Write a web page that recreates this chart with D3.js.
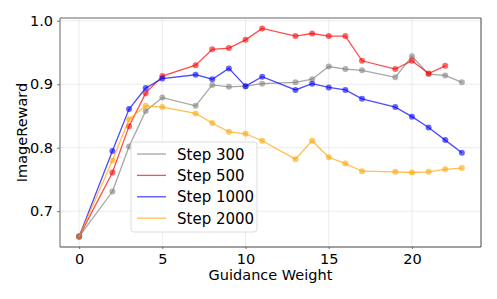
<!DOCTYPE html>
<html>
<head>
<meta charset="utf-8">
<script src="https://cdn.jsdelivr.net/npm/d3@7"></script>
<style>
  body { margin: 0; background: #fff; }
  text { font-family: "DejaVu Sans", sans-serif; fill: #000; }
  .grid line { stroke: #e6e6e6; stroke-width: 0.8; }
</style>
</head>
<body>
<div id="chart"></div>
<script>
// guidance weights and ImageReward per checkpoint
var weights = [0, 2, 3, 4, 5, 7, 8, 9, 10, 11, 13, 14, 15, 16, 17, 19, 20, 21, 22, 23];
var step300 = [0.660, 0.731, 0.802, 0.858, 0.879, 0.866, 0.899, 0.896, 0.897, 0.901, 0.903, 0.908, 0.928, 0.924, 0.922, 0.911, 0.944, 0.916, 0.914, 0.903];
var step500 = [0.660, 0.761, 0.834, 0.886, 0.913, 0.930, 0.955, 0.957, 0.970, 0.988, 0.976, 0.980, 0.976, 0.976, 0.937, 0.924, 0.937, 0.917, 0.929];
var step1000 = [0.660, 0.795, 0.861, 0.894, 0.909, 0.915, 0.908, 0.925, 0.897, 0.912, 0.891, 0.901, 0.895, 0.891, 0.877, 0.864, 0.849, 0.832, 0.812, 0.792];
var step2000 = [0.660, 0.780, 0.845, 0.866, 0.864, 0.854, 0.839, 0.825, 0.822, 0.811, 0.782, 0.811, 0.785, 0.775, 0.763, 0.762, 0.761, 0.762, 0.766, 0.768];
var seriesNames = ["Step 300", "Step 500", "Step 1000", "Step 2000"];
var seriesColors = ["gray", "red", "blue", "orange"];
var xTicks = [0, 5, 10, 15, 20];
var yTicks = [0.7, 0.8, 0.9, 1.0];

var series = [step300, step500, step1000, step2000].map(function(vals, i) {
  return {
    name: seriesNames[i],
    color: seriesColors[i],
    points: vals.map(function(v, j) { return {x: weights[j], y: v}; })
  };
});

var width = 497, height = 299;
var plotL = 60, plotR = 481, plotT = 18, plotB = 247;

var svg = d3.select("#chart").append("svg")
  .attr("width", width)
  .attr("height", height);

// matplotlib-style 5% margins
var xScale = d3.scaleLinear().domain([-1.15, 24.15]).range([plotL, plotR]);
var yScale = d3.scaleLinear().domain([0.6436, 1.0044]).range([plotB, plotT]);

// grid
var grid = svg.append("g").attr("class", "grid");
grid.selectAll(".vgrid").data(xTicks).enter().append("line")
  .attr("x1", function(d) { return xScale(d); })
  .attr("x2", function(d) { return xScale(d); })
  .attr("y1", plotT).attr("y2", plotB);
grid.selectAll(".hgrid").data(yTicks).enter().append("line")
  .attr("y1", function(d) { return yScale(d); })
  .attr("y2", function(d) { return yScale(d); })
  .attr("x1", plotL).attr("x2", plotR);

// axes
var xAxis = svg.append("g")
  .attr("transform", "translate(0," + plotB + ")")
  .call(d3.axisBottom(xScale).tickValues(xTicks).tickSize(2).tickPadding(5).tickFormat(d3.format("d")));
var yAxis = svg.append("g")
  .attr("transform", "translate(" + plotL + ",0)")
  .call(d3.axisLeft(yScale).tickValues(yTicks).tickSize(3).tickPadding(4).tickFormat(d3.format(".1f")));
[xAxis, yAxis].forEach(function(a) {
  a.select(".domain").remove();
  a.selectAll("line").attr("stroke", "#555").attr("stroke-width", 0.8);
  a.selectAll("text").style("font-size", "14.5px").style("font-family", "DejaVu Sans");
});

// frame: top spine lighter, others dark gray
var spines = [
  {x1: plotL, y1: plotT, x2: plotR, y2: plotT, c: "#999", w: 1.5},
  {x1: plotR, y1: plotT, x2: plotR, y2: plotB, c: "#444", w: 1},
  {x1: plotL, y1: plotB, x2: plotR, y2: plotB, c: "#444", w: 1},
  {x1: plotL, y1: plotT, x2: plotL, y2: plotB, c: "#666", w: 1}
];
svg.selectAll(".spine").data(spines).enter().append("line")
  .attr("x1", function(d) { return d.x1; }).attr("y1", function(d) { return d.y1; })
  .attr("x2", function(d) { return d.x2; }).attr("y2", function(d) { return d.y2; })
  .attr("stroke", function(d) { return d.c; })
  .attr("stroke-width", function(d) { return d.w; });

// lines
var line = d3.line()
  .x(function(d) { return xScale(d.x); })
  .y(function(d) { return yScale(d.y); });

var groups = svg.selectAll(".series").data(series).enter().append("g")
  .attr("class", "series");
groups.append("path")
  .attr("d", function(d) { return line(d.points); })
  .attr("fill", "none")
  .attr("stroke", function(d) { return d.color; })
  .attr("stroke-opacity", 0.7)
  .attr("stroke-width", 1.3);
groups.selectAll("circle")
  .data(function(d) { return d.points.map(function(p) { return {x: p.x, y: p.y, color: d.color}; }); })
  .enter().append("circle")
  .attr("cx", function(d) { return xScale(d.x); })
  .attr("cy", function(d) { return yScale(d.y); })
  .attr("r", 3)
  .attr("fill", function(d) { return d.color; })
  .attr("fill-opacity", 0.6);

// axis labels
svg.append("text")
  .attr("x", (plotL + plotR) / 2)
  .attr("y", 280)
  .attr("text-anchor", "middle")
  .style("font-size", "14.5px")
  .text("Guidance Weight");
svg.append("text")
  .attr("transform", "translate(27," + ((plotT + plotB) / 2) + ") rotate(-90)")
  .attr("text-anchor", "middle")
  .style("font-size", "14.5px")
  .text("ImageReward");

// legend
var legend = svg.append("g").attr("transform", "translate(131,142)");
legend.append("rect")
  .attr("width", 126).attr("height", 90)
  .attr("rx", 3)
  .attr("fill", "#fff").attr("fill-opacity", 0.8)
  .attr("stroke", "#ddd");
var items = legend.selectAll(".item").data(series).enter().append("g")
  .attr("transform", function(d, i) { return "translate(0," + (12 + i * 21.4) + ")"; });
items.append("line")
  .attr("x1", 6).attr("x2", 35)
  .attr("stroke", function(d) { return d.color; })
  .attr("stroke-opacity", 0.7)
  .attr("stroke-width", 1.3);
items.append("text")
  .attr("x", 46).attr("y", 5.5)
  .style("font-size", "15px")
  .text(function(d) { return d.name; });
</script>
</body>
</html>
